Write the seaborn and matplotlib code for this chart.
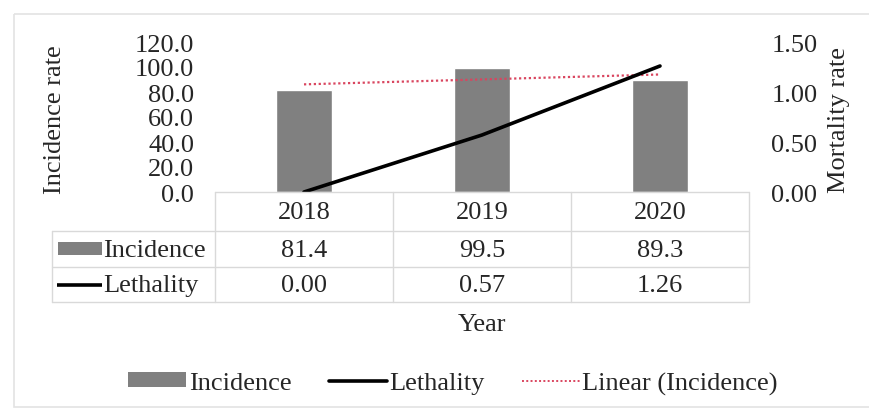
import numpy as np
import pandas as pd
import matplotlib
matplotlib.use("Agg")
import matplotlib.pyplot as plt
from matplotlib.patches import Patch, Rectangle
from matplotlib.lines import Line2D
import seaborn as sns

years = ["2018", "2019", "2020"]
incidence = [81.4, 99.5, 89.3]
lethality = [0.00, 0.57, 1.26]
left_ticks = [0, 20, 40, 60, 80, 100, 120]
right_ticks = [0.0, 0.5, 1.0, 1.5]
series_names = ["Incidence", "Lethality", "Linear (Incidence)"]

sns.set_theme(style="white")
plt.rcParams["font.family"] = ["Liberation Serif", "DejaVu Serif"]
FS = 19
TXT = "#262626"
GRID = "#d9d9d9"
BAR = "#808080"
TREND = "#d9455f"

W, H = 870, 414
fig = plt.figure(figsize=(W / 100, H / 100), dpi=100)

# pixel layout
px_l, px_r, px_t, px_b = 215, 749, 43, 193
ax = fig.add_axes([px_l / W, 1 - px_b / H, (px_r - px_l) / W, (px_b - px_t) / H])
ax2 = ax.twinx()

df = pd.DataFrame({"Year": years, "Incidence": incidence, "Lethality": lethality})
df["pos"] = np.arange(len(years))

sns.barplot(data=df, x="Year", y="Incidence", color=BAR, width=0.32,
            saturation=1, ax=ax, zorder=2)

# trend line (least-squares fit of incidence)
coef = np.polyfit(df["pos"], df["Incidence"], 1)
trend = np.polyval(coef, df["pos"])
ax.plot(df["pos"], trend, linestyle=(0, (1, 1.2)), color=TREND, lw=1.6, zorder=3)

sns.lineplot(data=df, x="pos", y="Lethality", color="black", lw=2.6, ax=ax2,
             zorder=4)

ax.set_xlim(-0.5, len(years) - 0.5)
ax.set_ylim(0, 120)
ax2.set_ylim(0, 1.5)
ax.set_yticks(left_ticks)
ax.set_yticklabels([f"{v:.1f}" for v in left_ticks], fontsize=FS, color=TXT)
ax2.set_yticks(right_ticks)
ax2.set_yticklabels([f"{v:.2f}" for v in right_ticks], fontsize=FS, color=TXT)
ax.tick_params(axis="y", length=0, pad=15)
ax2.tick_params(axis="y", length=0, pad=16)
ax.set_xticks([])
ax2.set_xticks([])
ax.set_xlabel("")
ax.set_ylabel("")
ax2.set_xlabel("")
ax2.set_ylabel("")
for a in (ax, ax2):
    for s in a.spines.values():
        s.set_visible(False)
    a.patch.set_alpha(0)

# overlay in pixel coordinates for table, labels, frame
ov = fig.add_axes([0, 0, 1, 1], zorder=-1)
ov.set_xlim(0, W)
ov.set_ylim(H, 0)
ov.axis("off")
ov.add_patch(Rectangle((14, 15), 880, 393, fill=False, ec="#e3e3e3", lw=1.2))

ov2 = fig.add_axes([0, 0, 1, 1], zorder=5)
ov2.set_xlim(0, W)
ov2.set_ylim(H, 0)
ov2.axis("off")

n = len(years)
colw = (px_r - px_l) / n
edges = [px_l + i * colw for i in range(n + 1)]
row_y = [193, 232, 268, 303]
lab_l = 52
# table lines
ov2.plot([px_l, px_r], [row_y[0], row_y[0]], color=GRID, lw=1)
for yv in row_y[1:]:
    ov2.plot([lab_l, px_r], [yv, yv], color=GRID, lw=1)
for xv in edges:
    ov2.plot([xv, xv], [row_y[0], row_y[-1]], color=GRID, lw=1)
ov2.plot([lab_l, lab_l], [row_y[1], row_y[-1]], color=GRID, lw=1)

# table text
for i, y in enumerate(years):
    cx = (edges[i] + edges[i + 1]) / 2
    ov2.text(cx, (row_y[0] + row_y[1]) / 2 + 1, y, ha="center", va="center",
             fontsize=FS, color=TXT)
    ov2.text(cx, (row_y[1] + row_y[2]) / 2 + 1, f"{incidence[i]:.1f}",
             ha="center", va="center", fontsize=FS, color=TXT)
    ov2.text(cx, (row_y[2] + row_y[3]) / 2 + 1, f"{lethality[i]:.2f}",
             ha="center", va="center", fontsize=FS, color=TXT)

ov2.add_patch(Rectangle((58, 243), 44, 13, color=BAR, lw=0))
ov2.text(103, (row_y[1] + row_y[2]) / 2 + 1, series_names[0], ha="left",
         va="center", fontsize=FS, color=TXT)
ov2.plot([57, 102], [286, 286], color="black", lw=2.6, solid_capstyle="butt")
ov2.text(103, (row_y[2] + row_y[3]) / 2 + 1, series_names[1], ha="left",
         va="center", fontsize=FS, color=TXT)

# axis titles
ov2.text(55, 120, "Incidence rate", rotation=90, ha="center", va="center",
         fontsize=FS, color=TXT)
ov2.text(839, 120, "Mortality rate", rotation=90, ha="center", va="center",
         fontsize=FS, color=TXT)
ov2.text((px_l + px_r) / 2, 325, "Year", ha="center", va="center",
         fontsize=FS, color=TXT)

handles = [Patch(color=BAR, lw=0),
           Line2D([], [], color="black", lw=2.6),
           Line2D([], [], color=TREND, lw=1.4, linestyle=(0, (1, 1.2)))]
fig.legend(handles, series_names, loc="center", bbox_to_anchor=(453 / W, 1 - 384 / H),
           ncol=3, frameon=False, fontsize=FS, handlelength=2.2,
           handletextpad=0.1, columnspacing=1.4, handleheight=0.5,
           labelcolor=TXT)

fig.savefig("out.png", dpi=100)
